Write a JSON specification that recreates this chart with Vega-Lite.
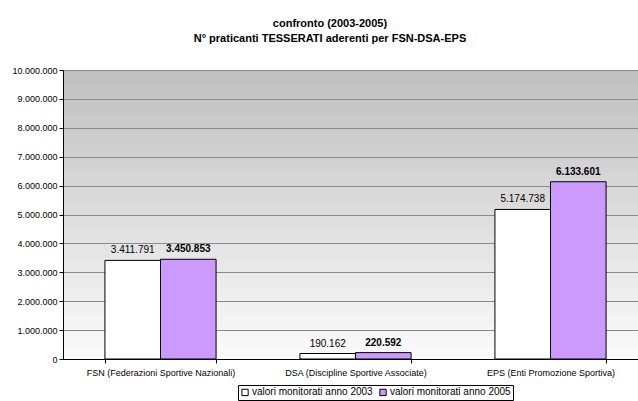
{
  "$schema": "https://vega.github.io/schema/vega-lite/v6.json",
  "autosize": "none",
  "width": 575,
  "height": 289,
  "padding": {"left": 63, "top": 70, "right": 0, "bottom": 42},
  "background": "white",
  "config": {
    "font": "Liberation Sans",
    "locale": {"number": {"decimal": ",", "thousands": ".", "grouping": [3], "currency": ["€", ""]}},
    "view": {
      "stroke": null,
      "fill": {"gradient": "linear", "x1": 0, "y1": 0, "x2": 0, "y2": 1,
        "stops": [{"offset": 0, "color": "#bfbfbf"}, {"offset": 1, "color": "#fbfbfb"}]}
    }
  },
  "title": {
    "text": "confronto (2003-2005)",
    "subtitle": "N° praticanti TESSERATI aderenti per FSN-DSA-EPS",
    "fontSize": 11,
    "fontWeight": "bold",
    "color": "black",
    "subtitleFontSize": 11,
    "subtitleFontWeight": "bold",
    "subtitleColor": "black",
    "subtitlePadding": 4,
    "frame": "bounds",
    "anchor": "middle",
    "offset": 22
  },
  "data": {"values": [
    {"categoria": "FSN (Federazioni Sportive Nazionali)", "serie": "valori monitorati anno 2003", "valore": 3411791},
    {"categoria": "FSN (Federazioni Sportive Nazionali)", "serie": "valori monitorati anno 2005", "valore": 3450853},
    {"categoria": "DSA (Discipline Sportive Associate)", "serie": "valori monitorati anno 2003", "valore": 190162},
    {"categoria": "DSA (Discipline Sportive Associate)", "serie": "valori monitorati anno 2005", "valore": 220592},
    {"categoria": "EPS (Enti Promozione Sportiva)", "serie": "valori monitorati anno 2003", "valore": 5174738},
    {"categoria": "EPS (Enti Promozione Sportiva)", "serie": "valori monitorati anno 2005", "valore": 6133601}
  ]},
  "encoding": {
    "x": {
      "field": "categoria", "type": "nominal", "sort": null,
      "scale": {"range": [0, 585], "paddingInner": 0.43, "paddingOuter": 0.215},
      "axis": {"title": null, "labelAngle": 0, "labelFontSize": 9, "labelColor": "black",
        "domainColor": "black", "tickColor": "black", "tickSize": 4, "tickBand": "extent",
        "labelPadding": 5}
    },
    "xOffset": {"field": "serie", "type": "nominal", "scale": {"paddingInner": 0, "paddingOuter": 0}},
    "y": {
      "field": "valore", "type": "quantitative",
      "scale": {"domain": [0, 10000000], "nice": false},
      "axis": {"title": null, "values": [0,1000000,2000000,3000000,4000000,5000000,6000000,7000000,8000000,9000000,10000000],
        "labelOverlap": false, "format": ",d", "labelFontSize": 9, "labelColor": "black", "domainColor": "black",
        "tickColor": "black", "tickSize": 4, "gridColor": "#8a8a8a", "gridWidth": 1, "gridOpacity": 1}
    }
  },
  "layer": [
    {
      "mark": {"type": "bar", "stroke": "black", "strokeWidth": 1},
      "encoding": {
        "fill": {"field": "serie", "type": "nominal",
          "scale": {"domain": ["valori monitorati anno 2003", "valori monitorati anno 2005"], "range": ["#ffffff", "#cc99ff"]},
          "legend": {"title": null, "orient": "none", "direction": "horizontal", "legendX": 175, "legendY": 315,
            "symbolType": "square", "symbolSize": 40, "symbolStrokeColor": "black", "symbolStrokeWidth": 1,
            "labelFontSize": 10, "labelColor": "black", "strokeColor": "black", "fillColor": "white",
            "padding": 2, "columnPadding": 4, "symbolOffset": 0, "labelOffset": 2}}
      }
    },
    {
      "transform": [{"filter": "datum.serie == 'valori monitorati anno 2003'"}],
      "mark": {"type": "text", "baseline": "bottom", "dy": -5, "fontSize": 10, "color": "black"},
      "encoding": {"text": {"field": "valore", "type": "quantitative", "format": ",d"}}
    },
    {
      "transform": [{"filter": "datum.serie == 'valori monitorati anno 2005'"}],
      "mark": {"type": "text", "baseline": "bottom", "dy": -5, "fontSize": 10, "fontWeight": "bold", "color": "black"},
      "encoding": {"text": {"field": "valore", "type": "quantitative", "format": ",d"}}
    }
  ]
}
